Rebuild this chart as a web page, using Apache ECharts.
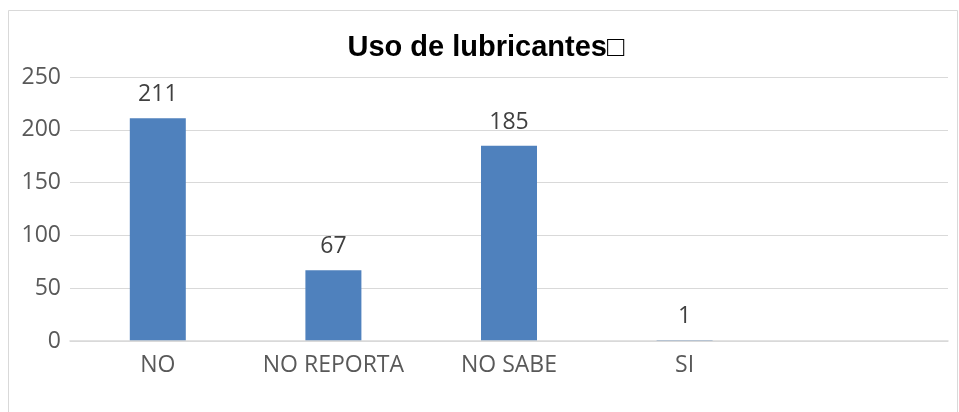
<!DOCTYPE html>
<html>
<head>
<meta charset="utf-8">
<script src="https://cdn.jsdelivr.net/npm/echarts@6/dist/echarts.min.js"></script>
<style>
  html, body { margin: 0; padding: 0; background: #fff; }
  #chart { width: 959px; height: 412px; }
</style>
</head>
<body>
<div id="chart"></div>
<script>
// Survey answers: use of lubricants
const categories = ['NO', 'NO REPORTA', 'NO SABE', 'SI', ''];
const counts = [211, 67, 185, 1, null];
const yTicks = { min: 0, max: 250, interval: 50 };

const chart = echarts.init(document.getElementById('chart'));
const labelFont = '"Open Sans", "Noto Sans", sans-serif';

chart.setOption({
  animation: false,
  backgroundColor: '#ffffff',
  title: {
    text: 'Uso de lubricantes\u25A1',
    left: 481,
    textAlign: 'center',
    top: 28,
    textStyle: {
      fontFamily: '"Liberation Sans", Arial, sans-serif',
      fontWeight: 'bold',
      fontSize: 29,
      color: '#000000'
    }
  },
  graphic: [{
    type: 'rect',
    shape: { x: 8.5, y: 10.5, width: 949, height: 430 },
    style: { fill: 'none', stroke: '#d9d9d9', lineWidth: 1 },
    silent: true,
    z: -1
  }],
  grid: { left: 70, right: 11, top: 77, bottom: 71 },
  xAxis: {
    type: 'category',
    data: categories,
    z: 5,
    axisLine: { lineStyle: { color: '#d9d9d9', width: 1.5 } },
    axisTick: { show: false },
    axisLabel: {
      interval: 0,
      hideOverlap: false,
      color: '#595959',
      fontFamily: labelFont,
      fontSize: 23,
      margin: 13
    }
  },
  yAxis: {
    type: 'value',
    min: yTicks.min,
    max: yTicks.max,
    interval: yTicks.interval,
    axisLine: { show: false },
    axisTick: { show: false },
    splitLine: { lineStyle: { color: '#d9d9d9', width: 1 } },
    axisLabel: {
      color: '#595959',
      fontFamily: labelFont,
      fontSize: 23,
      margin: 9
    }
  },
  series: [{
    type: 'bar',
    data: counts,
    barWidth: 56,
    itemStyle: { color: '#4f81bd' },
    label: {
      show: true,
      position: 'top',
      distance: 12,
      color: '#404040',
      fontFamily: labelFont,
      fontSize: 23
    }
  }]
});
</script>
</body>
</html>
